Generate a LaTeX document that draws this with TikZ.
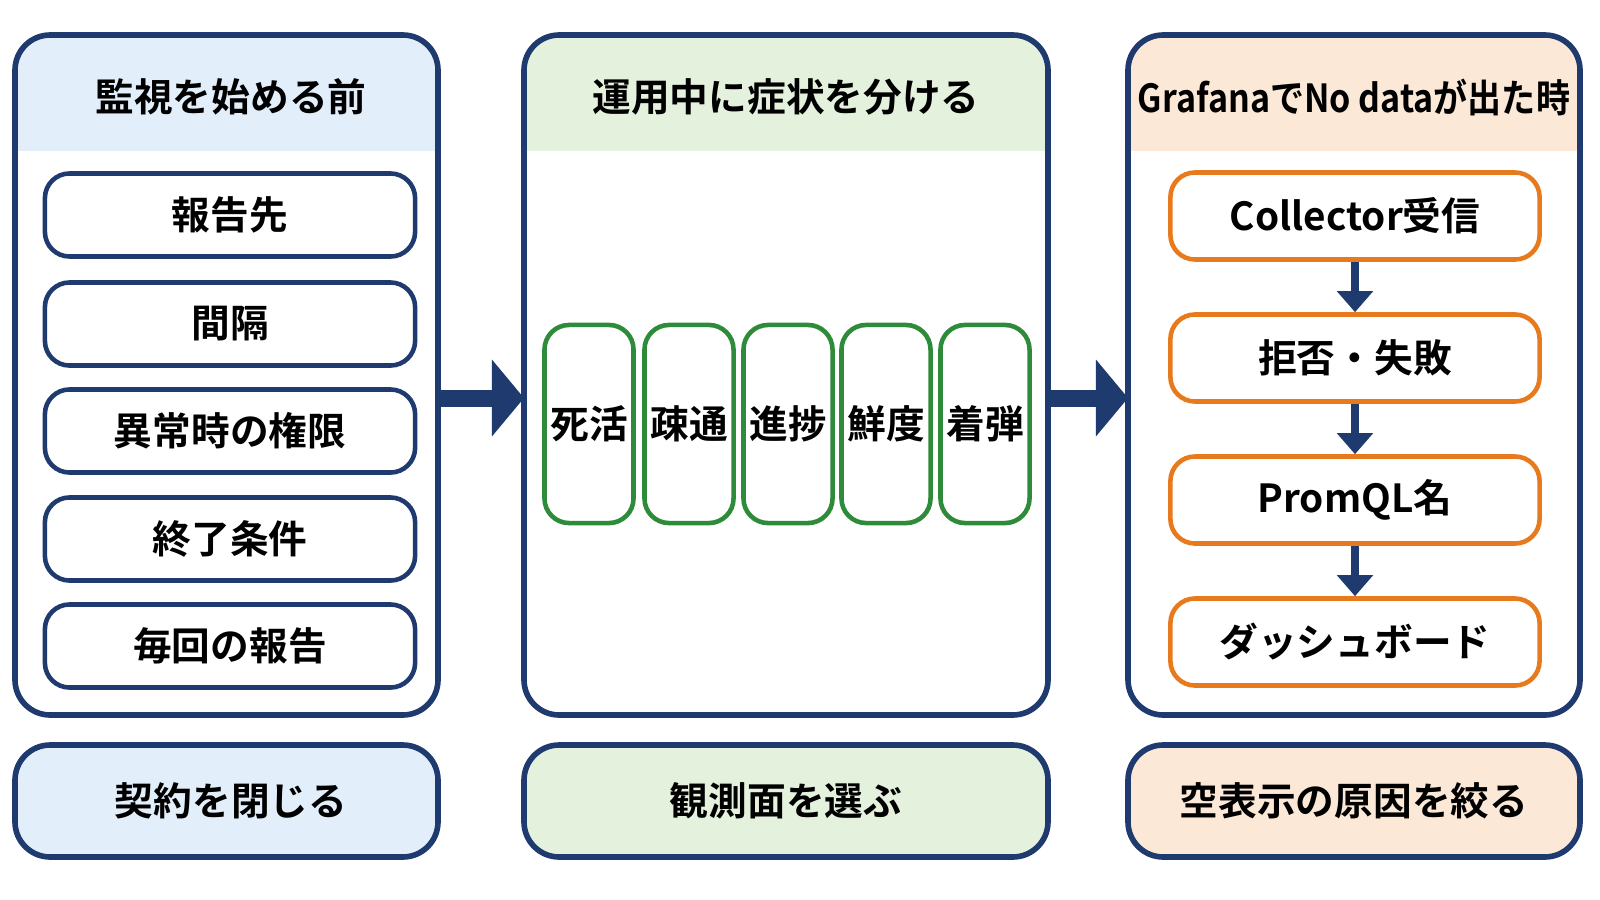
\documentclass[tikz,border=0pt]{standalone}
\usepackage{fontspec}
\setmainfont{Noto Sans CJK JP}[BoldFont={* Bold}]
\usetikzlibrary{positioning,arrows.meta}
\definecolor{navy}{HTML}{1F3A6E}
\definecolor{hblue}{HTML}{E3EEFB}
\definecolor{hgreen}{HTML}{E4F1DD}
\definecolor{horange}{HTML}{FCE8D6}
\definecolor{gline}{HTML}{2E8B3A}
\definecolor{oline}{HTML}{E87A1E}
\tikzset{
  panel/.style={draw=navy, line width=1.6pt, rounded corners=10pt},
  item/.style={draw=navy, line width=1.3pt, rounded corners=7pt, fill=white, font=\bfseries\fontsize{11}{13}\selectfont},
  gitem/.style={item, draw=gline},
  oitem/.style={item, draw=oline},
  head/.style={font=\bfseries\fontsize{11}{13}\selectfont},
  downarr/.style={-{Triangle[length=6pt,width=10pt]}, draw=navy, line width=2.5pt},
  bigarr/.style={-{Triangle[length=0.32cm,width=0.75cm]}, draw=navy, line width=0.17cm},
}
\begin{document}
\begin{tikzpicture}[x=0.01cm,y=-0.01cm]
\useasboundingbox (0,0) rectangle (1600,900);
% panels
\foreach \xa/\xb/\hc in {15/438/hblue, 524/1048/hgreen, 1128/1580/horange}
{
  \begin{scope}
    \clip[rounded corners=10pt] (\xa,35) rectangle (\xb,715);
    \fill[\hc] (\xa,35) rectangle (\xb,151);
  \end{scope}
  \draw[panel] (\xa,35) rectangle (\xb,715);
  \draw[panel, fill=\hc] (\xa,745) rectangle (\xb,857);
}
\node[head] (h1) at (231,97) {監視を始める前};
\node[head] (h2) at (786,97) {運用中に症状を分ける};
\node[head, xscale=0.88] (h3) at (1354,97) {GrafanaでNo dataが出た時};
\node[head] (f1) at (231,801) {契約を閉じる};
\node[head] (f2) at (786,801) {観測面を選ぶ};
\node[head] (f3) at (1354,801) {空表示の原因を絞る};
% left items
\foreach \n/\y/\t in {a/215/報告先, b/324/間隔, c/431/異常時の権限, d/539/終了条件, e/646/毎回の報告}
  \node[item, minimum width=3.70cm, minimum height=0.83cm] (l\n) at (230,\y) {\t};
% middle items
\foreach \n/\x/\t in {a/589/死活, b/689/疎通, c/788/進捗, d/886/鮮度, e/985/着弾}
  \node[gitem, text width=0.78cm, align=center, minimum width=0.89cm, minimum height=1.98cm, inner sep=1pt] (m\n) at (\x,424) {\t};
% right items
\foreach \n/\y/\t in {a/216/Collector受信, b/358/拒否・失敗, c/500/PromQL名, d/642/ダッシュボード}
  \node[oitem, minimum width=3.69cm, minimum height=0.87cm] (r\n) at (1355,\y) {\t};
\draw[downarr] (ra) -- (rb);
\draw[downarr] (rb) -- (rc);
\draw[downarr] (rc) -- (rd);
% big arrows
\coordinate (p1) at (438,398);
\coordinate (q1) at (524,398);
\coordinate (p2) at (1048,398);
\coordinate (q2) at (1128,398);
\draw[bigarr] (p1) -- (q1);
\draw[bigarr] (p2) -- (q2);
\end{tikzpicture}
\end{document}
